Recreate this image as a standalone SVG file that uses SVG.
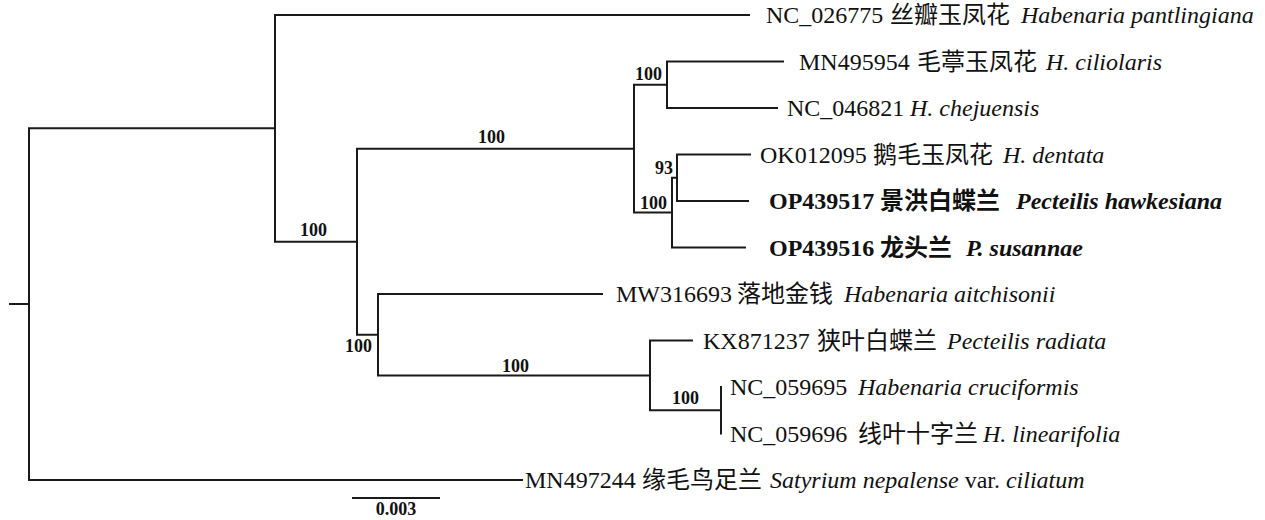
<svg xmlns="http://www.w3.org/2000/svg" width="1265" height="520" viewBox="0 0 1265 520">
<style>
.br{fill:none;stroke:#1a1a1a;stroke-width:2;stroke-linecap:square}
.lab{font-family:'Liberation Serif','Noto Sans CJK SC',serif;font-size:24px;fill:#111}
.bs{font-family:'Liberation Serif',serif;font-size:18px;font-weight:bold;fill:#111}
.i{font-style:italic}
.b{font-weight:bold}
</style>
<rect width="1265" height="520" fill="#fff"/>
<g id="connectors">
<path class="br" d="M10,304H29M29,128.3V480M29,480H522M29,128.3H275M275,15V241.7M275,15H749M275,241.7H357M357,148.7V334.7M357,148.7H634M634,84.75V212.6M634,84.75H667M667,61.5V108M667,61.5H783M667,108H777M634,212.6H672M672,177.75V247.5M672,177.75H677M677,154.5V201M677,154.5H750M677,201H748M672,247.5H745M357,334.7H378M378,294V375.4M378,294H602M378,375.4H650M650,340.5V410.25M650,340.5H692M650,410.25H721M721,387V433.5"/>
</g>
<g id="leaf-NC_026775"><text class="lab" y="23"><tspan x="766">NC_026775</tspan><tspan x="890">丝瓣玉凤花</tspan><tspan x="1021" class="i">Habenaria pantlingiana</tspan></text></g>
<g id="leaf-MN495954"><text class="lab" y="69.5"><tspan x="799">MN495954</tspan><tspan x="917">毛葶玉凤花</tspan><tspan x="1046" class="i">H. ciliolaris</tspan></text></g>
<g id="leaf-NC_046821"><text class="lab" y="116"><tspan x="787">NC_046821</tspan><tspan x="910" class="i">H. chejuensis</tspan></text></g>
<g id="leaf-OK012095"><text class="lab" y="162.5"><tspan x="760">OK012095</tspan><tspan x="873">鹅毛玉凤花</tspan><tspan x="1003" class="i">H. dentata</tspan></text></g>
<g id="leaf-OP439517"><text class="lab b" y="209"><tspan x="769">OP439517</tspan><tspan x="880">景洪白蝶兰</tspan><tspan x="1016" class="i">Pecteilis hawkesiana</tspan></text></g>
<g id="leaf-OP439516"><text class="lab b" y="255.5"><tspan x="769">OP439516</tspan><tspan x="880">龙头兰</tspan><tspan x="966" class="i">P. susannae</tspan></text></g>
<g id="leaf-MW316693"><text class="lab" y="302"><tspan x="616">MW316693</tspan><tspan x="737">落地金钱</tspan><tspan x="844" class="i">Habenaria aitchisonii</tspan></text></g>
<g id="leaf-KX871237"><text class="lab" y="348.5"><tspan x="703">KX871237</tspan><tspan x="817">狭叶白蝶兰</tspan><tspan x="947" class="i">Pecteilis radiata</tspan></text></g>
<g id="leaf-NC_059695"><text class="lab" y="395"><tspan x="730">NC_059695</tspan><tspan x="858" class="i">Habenaria cruciformis</tspan></text></g>
<g id="leaf-NC_059696"><text class="lab" y="441.5"><tspan x="730">NC_059696</tspan><tspan x="858">线叶十字兰</tspan><tspan x="983" class="i">H. linearifolia</tspan></text></g>
<g id="leaf-MN497244"><text class="lab" y="488"><tspan x="525">MN497244</tspan><tspan x="642">缘毛鸟足兰</tspan><tspan x="770" class="i">Satyrium nepalense</tspan><tspan> var. </tspan><tspan class="i">ciliatum</tspan></text></g>
<g id="node-A-B"><text class="bs" x="300" y="236">100</text></g>
<g id="node-B-F"><text class="bs" x="478" y="143">100</text></g>
<g id="node-F-G"><text class="bs" x="635" y="80">100</text></g>
<g id="node-H-I"><text class="bs" x="655" y="174">93</text></g>
<g id="node-F-H"><text class="bs" x="640" y="209">100</text></g>
<g id="node-B-C"><text class="bs" x="345" y="352">100</text></g>
<g id="node-C-D"><text class="bs" x="502" y="372">100</text></g>
<g id="node-D-E"><text class="bs" x="672" y="404">100</text></g>
<g id="scale-bar">
<path class="br" d="M353,498H439"/>
<text class="bs" x="396" y="515" text-anchor="middle">0.003</text>
</g>
</svg>
